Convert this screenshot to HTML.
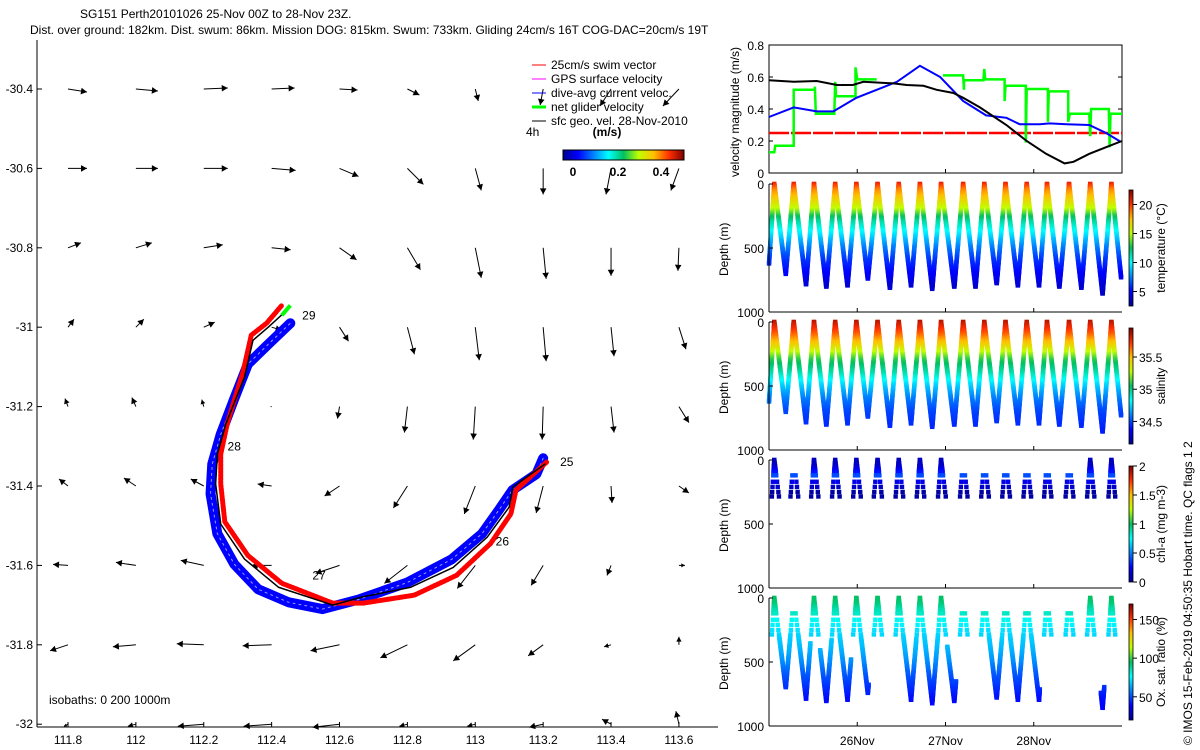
<!DOCTYPE html>
<html><head><meta charset="utf-8"><title>SG151 glider plot</title>
<style>
html,body{margin:0;padding:0;background:#fff;}
svg{display:block;font-family:"Liberation Sans",sans-serif;font-size:12px;}
</style></head>
<body>
<svg id="fig" width="1200" height="750" viewBox="0 0 1200 750" xmlns="http://www.w3.org/2000/svg">
<defs>
<linearGradient id="jetH" x1="0" y1="0" x2="1" y2="0">
<stop offset="0" stop-color="#00008f"/><stop offset="0.125" stop-color="#0000ff"/><stop offset="0.375" stop-color="#00ffff"/><stop offset="0.5" stop-color="#00c060"/><stop offset="0.625" stop-color="#c0ff00"/><stop offset="0.75" stop-color="#ffc000"/><stop offset="0.875" stop-color="#ff3000"/><stop offset="1" stop-color="#800000"/>
</linearGradient>
<linearGradient id="jetV" x1="0" y1="1" x2="0" y2="0">
<stop offset="0" stop-color="#00008f"/><stop offset="0.125" stop-color="#0000ff"/><stop offset="0.375" stop-color="#00ffff"/><stop offset="0.5" stop-color="#00c060"/><stop offset="0.625" stop-color="#c0ff00"/><stop offset="0.75" stop-color="#ffc000"/><stop offset="0.875" stop-color="#ff3000"/><stop offset="1" stop-color="#800000"/>
</linearGradient>
</defs>
<text x="80" y="18">SG151 Perth20101026 25-Nov 00Z to 28-Nov 23Z.</text>
<text x="30" y="34">Dist. over ground: 182km. Dist. swum: 86km. Mission DOG: 815km. Swum: 733km. Gliding 24cm/s 16T COG-DAC=20cm/s 19T</text>
<g id="map"></g>
<g id="legend">
<line x1="532" y1="65" x2="546" y2="65" stroke="#f00"/><text x="551" y="69">25cm/s swim vector</text>
<line x1="532" y1="79" x2="546" y2="79" stroke="#f0f"/><text x="551" y="83">GPS surface velocity</text>
<line x1="532" y1="93" x2="546" y2="93" stroke="#00f"/><text x="551" y="97">dive-avg current veloc.</text>
<line x1="532" y1="107" x2="546" y2="107" stroke="#0f0" stroke-width="3"/><text x="551" y="111">net glider velocity</text>
<line x1="532" y1="121" x2="546" y2="121" stroke="#000"/><text x="551" y="125">sfc geo. vel. 28-Nov-2010</text>
<text x="526" y="136">4h</text>
<text x="607" y="136" text-anchor="middle" font-weight="bold">(m/s)</text>
<rect x="563" y="150" width="121" height="10" fill="url(#jetH)" stroke="#000" stroke-width="1"/>
<text x="573" y="176" text-anchor="middle" font-weight="bold">0</text>
<text x="618" y="176" text-anchor="middle" font-weight="bold">0.2</text>
<text x="661" y="176" text-anchor="middle" font-weight="bold">0.4</text>
</g>
<text x="49" y="704">isobaths: 0   200  1000m</text>
<g id="right"></g>
<text transform="translate(1192,745) rotate(-90)">© IMOS 15-Feb-2019 04:50:35 Hobart time. QC flags 1  2</text>
</svg>
<script>
// ---------- MAP DATA ----------
const lons = [111.8,112,112.2,112.4,112.6,112.8,113,113.2,113.4,113.6];
const lats = [-30.4,-30.6,-30.8,-31,-31.2,-31.4,-31.6,-31.8,-32];
const uRow1 = [0.19,0.22,0.24,0.23,0.18,0.12,0.03,-0.03,-0.11,-0.16];
const vRow1 = [-0.03,-0.02,0.01,0.01,-0.01,-0.06,-0.12,-0.16,-0.17,-0.17];
const uRow2 = [0.19,0.22,0.24,0.24,0.19,0.16,0.06,0,-0.05,-0.08];
const vRow2 = [0,0,0,-0.02,-0.08,-0.16,-0.22,-0.26,-0.26,-0.22];
const uRow3 = [0.13,0.16,0.19,0.19,0.17,0.13,0.06,0.03,0,-0.01];
const vRow3 = [0.05,0.05,0.03,-0.02,-0.12,-0.22,-0.30,-0.31,-0.28,-0.23];
const uRow4 = [0.06,0.08,0.11,0.10,0.09,0.07,0.04,0.03,0.03,0.07];
const vRow4 = [0.08,0.08,0.05,-0.03,-0.14,-0.27,-0.33,-0.34,-0.29,-0.22];
const uRow5 = [-0.03,-0.04,-0.02,-0.01,-0.02,-0.03,-0.02,-0.01,0.03,0.10];
const vRow5 = [0.08,0.09,0.07,0,-0.12,-0.26,-0.33,-0.33,-0.26,-0.16];
const uRow6 = [-0.09,-0.12,-0.13,-0.14,-0.15,-0.14,-0.11,-0.07,0.01,0.10];
const vRow6 = [0.07,0.08,0.07,0.02,-0.10,-0.22,-0.28,-0.27,-0.17,-0.07];
const uRow7 = [-0.15,-0.20,-0.23,-0.20,-0.24,-0.23,-0.18,-0.12,-0.04,0.06];
const vRow7 = [0.01,0.03,0.05,0,-0.08,-0.18,-0.23,-0.20,-0.10,0];
const uRow8 = [-0.18,-0.23,-0.27,-0.29,-0.29,-0.27,-0.22,-0.15,-0.07,0];
const vRow8 = [-0.06,-0.02,0.01,-0.01,-0.06,-0.13,-0.16,-0.11,-0.02,0.08];
const uRow9 = [-0.04,-0.08,-0.26,-0.28,-0.27,-0.08,-0.08,-0.14,-0.09,-0.03];
const vRow9 = [-0.02,-0.02,-0.02,-0.02,-0.03,-0.02,-0.02,-0.03,0.05,0.13];
const uRows = [uRow1,uRow2,uRow3,uRow4,uRow5,uRow6,uRow7,uRow8,uRow9];
const vRows = [vRow1,vRow2,vRow3,vRow4,vRow5,vRow6,vRow7,vRow8,vRow9];
const lonTicks = [111.8,112,112.2,112.4,112.6,112.8,113,113.2,113.4,113.6];
const latTicks = [-30.4,-30.6,-30.8,-31,-31.2,-31.4,-31.6,-31.8,-32];
// glider track (lon, lat)
const trackLon = [113.205,113.11,113.1,113.035,112.935,112.81,112.665,112.58,112.42,112.32,112.25,112.235,112.24,112.265,112.32,112.345,112.39,112.445];
const trackLat = [-31.345,-31.403,-31.453,-31.529,-31.605,-31.655,-31.68,-31.7,-31.655,-31.584,-31.496,-31.395,-31.32,-31.244,-31.126,-31.033,-31.0,-30.957];
const blueLon = [113.2,113.18,113.11,113.07,113.02,112.93,112.8,112.66,112.55,112.45,112.36,112.29,112.24,112.22,112.225,112.25,112.29,112.33,112.39,112.455];
const blueLat = [-31.33,-31.37,-31.41,-31.46,-31.52,-31.585,-31.643,-31.685,-31.71,-31.693,-31.66,-31.597,-31.52,-31.42,-31.345,-31.27,-31.18,-31.093,-31.043,-30.99];
const redLon = [113.21,113.12,113.105,113.045,112.945,112.82,112.67,112.58,112.43,112.33,112.262,112.25,112.25,112.27,112.315,112.34,112.385,112.43];
const redLat = [-31.34,-31.41,-31.47,-31.545,-31.625,-31.675,-31.695,-31.695,-31.645,-31.575,-31.49,-31.395,-31.32,-31.24,-31.115,-31.02,-30.99,-30.945];
const dayLabels = ['25','26','27','28','29'];
const dayLabelLon = [113.25,113.06,112.52,112.27,112.49];
const dayLabelLat = [-31.35,-31.55,-31.635,-31.31,-30.98];

// ---------- TIME-SERIES DATA ----------
const blackT = [25.0,25.28,25.54,25.77,25.95,26.07,26.41,26.56,26.75,26.9,27.09,27.2,27.39,27.69,27.92,28.14,28.35,28.45,28.63,28.86,29.0];
const blackV = [0.58,0.57,0.575,0.55,0.55,0.57,0.56,0.55,0.545,0.52,0.5,0.47,0.41,0.3,0.2,0.12,0.06,0.07,0.12,0.17,0.2];
const blueT = [25.0,25.28,25.54,25.73,25.99,26.22,26.45,26.71,26.94,27.2,27.46,27.69,27.84,28.07,28.18,28.37,28.63,28.82,28.97];
const blueV = [0.35,0.41,0.385,0.385,0.47,0.52,0.57,0.67,0.6,0.45,0.36,0.345,0.305,0.305,0.31,0.305,0.3,0.25,0.2];
const greenT = [25.0,25.06,25.07,25.28,25.28,25.52,25.52,25.53,25.74,25.75,25.76,25.98,25.98,26.0,26.22,NaN,26.97,27.2,27.21,27.21,27.43,27.44,27.45,27.67,27.67,27.68,27.91,27.91,27.92,28.16,28.16,28.17,28.39,28.39,28.41,28.63,28.64,28.65,28.85,28.86,28.87,29.0];
const greenV = [0.13,0.13,0.17,0.17,0.52,0.52,0.54,0.37,0.37,0.57,0.48,0.48,0.66,0.585,0.585,NaN,0.61,0.61,0.52,0.58,0.58,0.65,0.585,0.585,0.45,0.545,0.545,0.19,0.525,0.525,0.32,0.51,0.51,0.32,0.37,0.37,0.23,0.4,0.4,0.16,0.37,0.37];
const swimSpeed = 0.25;
const velTicks = [0,0.2,0.4,0.6,0.8];
const dateTicks = [26,27,28];
const dateTickLabels = ['26Nov','27Nov','28Nov'];
// dive turning points (time in days, depth m)
const turnT = [25.0,25.06,25.19,25.28,25.42,25.51,25.65,25.75,25.89,25.99,26.12,26.23,26.37,26.47,26.61,26.71,26.85,26.95,27.1,27.2,27.34,27.44,27.58,27.68,27.82,27.92,28.06,28.15,28.29,28.4,28.54,28.64,28.78,28.88,28.99];
const turnD = [625,0,703,0,787,0,808,0,795,0,743,0,814,0,795,0,822,0,808,0,808,0,782,0,795,0,795,0,808,0,814,0,861,0,730];
const profDepth = [0,50,100,200,250,300,400,500,600,700,800,900];
const tempProf = [20.5,18.5,17.5,15,13,11.5,9.5,7.5,6,5,4,3.5];
const salProf = [35.85,35.75,35.65,35.4,35.25,35.1,34.95,34.75,34.6,34.5,34.45,34.4];
const oxProf = [95,92,85,75,72,70,66,60,52,46,40,38];
const chlDepth = [0,50,100,130,170,250,400];
const chlProf = [0.1,0.12,0.3,0.45,0.2,0.05,0.03];
const chlDenseSurf = [1,5,7,9,11,13,15,17,31,33];
const oxDeepStart = [25.07,25.31,25.58,25.73,25.99,26.48,26.72,27.02,27.49,27.7,27.94,28.76];
const oxDeepEnd = [25.26,25.47,25.71,25.93,26.13,26.67,26.92,27.12,27.64,27.89,28.07,28.8];

// ---------- HELPERS ----------
const NS = 'http://www.w3.org/2000/svg';
function mk(tag, attrs, parent){const e=document.createElementNS(NS,tag);for(const k in attrs)e.setAttribute(k,attrs[k]);parent.appendChild(e);return e;}
function mx(lon){return 68+(lon-111.8)*339.4;}
function my(lat){return 89+(-30.4-lat)*397;}
const VS = 100; // px per m/s
const cmapPos=[0,0.125,0.375,0.5,0.625,0.75,0.875,1];
const cmapR=[0,0,0,0,192,255,255,128], cmapG=[0,0,255,192,255,192,48,0], cmapB=[143,255,255,96,0,0,0,0];
function jet(x){x=Math.max(0,Math.min(1,x));
 return 'rgb('+Math.round(interp(cmapPos,cmapR,x))+','+Math.round(interp(cmapPos,cmapG,x))+','+Math.round(interp(cmapPos,cmapB,x))+')';}
function interp(xs,ys,x){if(x<=xs[0])return ys[0];for(let i=1;i<xs.length;i++){if(x<=xs[i]){const f=(x-xs[i-1])/(xs[i]-xs[i-1]);return ys[i-1]+f*(ys[i]-ys[i-1]);}}return ys[ys.length-1];}
function arrow(g,x1,y1,x2,y2,col,hs){
 const L=Math.hypot(x2-x1,y2-y1);if(L<0.5){return mk('rect',{x:x1-1,y:y1-1,width:2,height:2,fill:col},g);}
 mk('line',{x1:x1,y1:y1,x2:x2,y2:y2,stroke:col,'stroke-width':1},g);
 const ux=(x2-x1)/L,uy=(y2-y1)/L,h=Math.min(hs,L*0.6),w=h*0.55;
 return mk('polygon',{points:[x2,y2,x2-ux*h-uy*w,y2-uy*h+ux*w,x2-ux*h+uy*w,y2-uy*h-ux*w].join(','),fill:col},g);}

// ---------- MAP ----------
const map=document.getElementById('map');
mk('line',{x1:37,y1:40,x2:37,y2:727,stroke:'#000'},map);
mk('line',{x1:37,y1:727,x2:718,y2:727,stroke:'#000'},map);
latTicks.forEach(la=>{const y=my(la);
 mk('line',{x1:37,y1:y,x2:42,y2:y,stroke:'#000'},map);
 const t=mk('text',{x:33,y:y+4,'text-anchor':'end'},map);t.textContent=String(la);
 
 });
lonTicks.forEach(lo=>{const x=mx(lo);
 mk('line',{x1:x,y1:727,x2:x,y2:722,stroke:'#000'},map);
 const t=mk('text',{x:x,y:744,'text-anchor':'middle'},map);t.textContent=String(lo);
 
 });
lats.forEach((la,r)=>{lons.forEach((lo,c)=>{
 const x=mx(lo),y=my(la);
 const a=arrow(map,x,y,x+uRows[r][c]*VS,y-vRows[r][c]*VS,'#000',6);
 
 });});
function poly(lonA,latA,col,w,name){const p=mk('polyline',{points:lonA.map((l,i)=>mx(l)+','+my(latA[i])).join(' '),fill:'none',stroke:col,'stroke-width':w,'stroke-linejoin':'round','stroke-linecap':'round'},map);
 
 return p;}
poly(blueLon,blueLat,'#0000ff',10,'dive-avg-current-band');
const hatch=poly(blueLon,blueLat,'#9999ff',1,'dive-avg-current-hatch');hatch.setAttribute('stroke-dasharray','2 4');
const rb=poly(redLon,redLat,'#ff0000',5,'swim-vector-band');rb.setAttribute('stroke-dasharray','2 1.5');
poly(trackLon,trackLat,'#000000',1.5,'glider-track');
const gEnd=mk('line',{x1:mx(112.43),y1:my(-30.97),x2:mx(112.455),y2:my(-30.945),stroke:'#00ff00','stroke-width':4},map);

dayLabels.forEach((d,i)=>{const t=mk('text',{x:mx(dayLabelLon[i]),y:my(dayLabelLat[i])},map);t.textContent=d;
 
 });

// ---------- RIGHT PANELS ----------
const R=document.getElementById('right');
const PX0=769,PX1=1122;
function X(t){return PX0+(t-25)*88.25;}
const vy0=45,vy1=173;
function VY(v){return vy1-v*160;}
mk('rect',{x:PX0,y:vy0,width:PX1-PX0,height:vy1-vy0,fill:'none',stroke:'#000'},R);
velTicks.forEach(v=>{const y=VY(v);mk('line',{x1:PX0,y1:y,x2:PX0+4,y2:y,stroke:'#000'},R);mk('line',{x1:PX1,y1:y,x2:PX1-4,y2:y,stroke:'#000'},R);
 const t=mk('text',{x:764,y:y+5,'text-anchor':'end'},R);t.textContent=String(v);
 
 });
dateTicks.forEach(d=>{mk('line',{x1:X(d),y1:vy1,x2:X(d),y2:vy1-4,stroke:'#000'},R);});
const vl=mk('text',{transform:'translate(739,177) rotate(-90)'},R);vl.textContent='velocity magnitude (m/s)';


const sw=mk('line',{x1:PX0,y1:VY(swimSpeed),x2:PX1,y2:VY(swimSpeed),stroke:'#ff0000','stroke-width':2.5,'stroke-dasharray':'20 2'},R);

function series(ts,vs,col,w,name){let d='',pen=false;ts.forEach((t,i)=>{if(isNaN(t)){pen=false;return;}d+=(pen?'L':'M')+X(t).toFixed(1)+' '+VY(vs[i]).toFixed(1)+' ';pen=true;});
 const p=mk('path',{d:d,fill:'none',stroke:col,'stroke-width':w},R);
 
 }
series(greenT,greenV,'#00ff00',2.5,'net-glider-speed-series');
series(blueT,blueV,'#0000ff',2,'dive-avg-current-series');
series(blackT,blackV,'#000000',2,'geo-velocity-series');

const panels=[
 {y0:184,name:'temperature',label:'temperature (°C)',prof:tempProf,pd:profDepth,cmin:2.5,cmax:22.5,ticks:[5,10,15,20],mode:'full'},
 {y0:322,name:'salinity',label:'salinity',prof:salProf,pd:profDepth,cmin:34.15,cmax:35.95,ticks:[34.5,35,35.5],mode:'full'},
 {y0:460,name:'chl-a',label:'chl-a (mg m-3)',prof:chlProf,pd:chlDepth,cmin:0,cmax:2,ticks:[0,0.5,1,1.5,2],mode:'chl'},
 {y0:598,name:'oxygen',label:'Ox. sat. ratio (%)',prof:oxProf,pd:profDepth,cmin:20,cmax:170,ticks:[50,100,150],mode:'ox'}];
const PH=128;
const shallow=[0,12,24,36,48,60,72,84,96,120,170,210,250,285];
panels.forEach((P,pi)=>{
 const g=mk('g',{},R);
 const DY=d=>P.y0+d/1000*PH;
 const col=d=>jet((interp(P.pd,P.prof,d)-P.cmin)/(P.cmax-P.cmin));
 function dot(t,d){const r=mk('rect',{x:X(t)-2.2,y:DY(d)-2.2,width:4.4,height:4.4,fill:col(d)},g);
  
  }
 for(let i=1;i<turnT.length;i++){
  const ta=turnT[i-1],da=turnD[i-1],tb=turnT[i],db=turnD[i];
  const tAt=d=>ta+(d-da)/(db-da)*(tb-ta);
  const dmax=Math.max(da,db),dmin=Math.min(da,db);
  const surfIdx=(da===0)?i-1:i;
  if(P.mode==='full'){for(let d=dmin;d<=dmax;d+=9)dot(tAt(d),d);}
  else{
   const dense=chlDenseSurf.indexOf(surfIdx)>=0;
   shallow.forEach(d=>{if(d>dmax||d<dmin)return;if(!dense&&d<100)return;dot(tAt(d),d);});
   if(P.mode==='ox'){for(let d=300;d<=dmax;d+=9){const t=tAt(d);
     for(let k=0;k<oxDeepStart.length;k++){if(t>=oxDeepStart[k]&&t<=oxDeepEnd[k]){dot(t,d);break;}}}}
  }
 }
 mk('line',{x1:PX0,y1:P.y0,x2:PX0,y2:P.y0+PH,stroke:'#000'},g);
 mk('line',{x1:PX0,y1:P.y0+PH,x2:PX1,y2:P.y0+PH,stroke:'#000'},g);
 [0,500,1000].forEach(d=>{mk('line',{x1:PX0,y1:DY(d),x2:PX0+4,y2:DY(d),stroke:'#000'},g);
  const t=mk('text',{x:764,y:DY(d)+5,'text-anchor':'end'},g);t.textContent=String(d);
  
  });
 dateTicks.forEach(d=>mk('line',{x1:X(d),y1:P.y0+PH,x2:X(d),y2:P.y0+PH-4,stroke:'#000'},g));
 const yl=mk('text',{transform:'translate(728,'+(P.y0+92)+') rotate(-90)'},g);yl.textContent='Depth (m)';
 
 
 const cy0=P.y0+6,cy1=P.y0+PH-6;
 const cb=mk('rect',{x:1129,y:cy0,width:4,height:cy1-cy0,fill:'url(#jetV)',stroke:'#000','stroke-width':0.8},g);
 
 
 P.ticks.forEach(v=>{const y=cy1-(v-P.cmin)/(P.cmax-P.cmin)*(cy1-cy0);
  mk('line',{x1:1133,y1:y,x2:1137,y2:y,stroke:'#000'},g);
  const t=mk('text',{x:1139,y:y+5},g);t.textContent=String(v);
  
  });
 const cl=mk('text',{transform:'translate(1165,'+(P.y0+PH/2)+') rotate(-90)','text-anchor':'middle'},g);cl.textContent=P.label;
 
 
});
dateTicks.forEach((d,i)=>{const t=mk('text',{x:X(d),y:745,'text-anchor':'middle'},R);t.textContent=dateTickLabels[i];
 
 });
</script>
</body></html>
